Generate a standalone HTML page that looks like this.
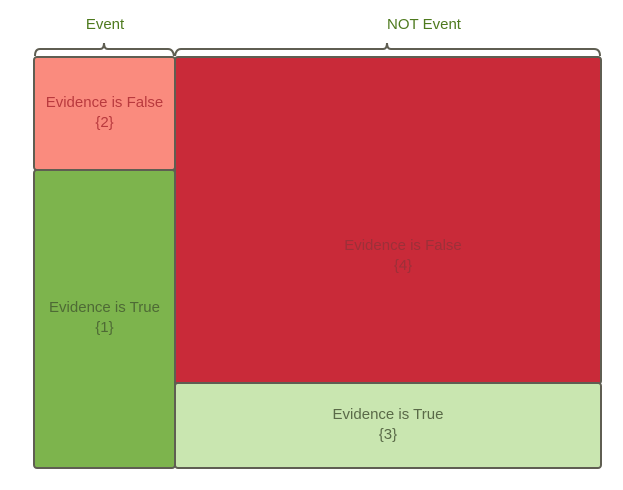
<!DOCTYPE html>
<html><head><meta charset="utf-8"><style>
body{margin:0;width:623px;height:490px;background:#fff;position:relative;font-family:"Liberation Sans",sans-serif;overflow:hidden}
.b{position:absolute;box-sizing:border-box;border:2px solid #5f5e52;border-radius:4px;display:flex;align-items:center;justify-content:center;text-align:center;font-size:15px;line-height:20px;padding-bottom:2px}
.lbl{position:absolute;font-size:15px;color:#4e7a1e;transform:translateX(-50%)}
</style></head><body>
<div class="lbl" style="left:105px;top:16px">Event</div>
<div class="lbl" style="left:424px;top:16px">NOT Event</div>
<svg width="623" height="60" style="position:absolute;left:0;top:0">
<path d="M35 56 Q35 49 40 49 L100 49 Q104 49 104 43 Q104 49 108 49 L168 49 Q173 49 174 56" fill="none" stroke="#5f5e52" stroke-width="2"/>
<path d="M175 56 Q176 49 181 49 L383 49 Q387 49 387 43 Q387 49 391 49 L594 49 Q600 49 600 56" fill="none" stroke="#5f5e52" stroke-width="2"/>
</svg>
<div class="b" style="left:33px;top:56px;width:143px;height:115px;background:#fa8b7e;color:#b93a3e">Evidence is False<br>{2}</div>
<div class="b" style="left:33px;top:169px;width:143px;height:300px;background:#7db44d;color:#4e6a35">Evidence is True<br>{1}</div>
<div class="b" style="left:174px;top:56px;width:428px;height:329px;background:#c92a39;color:#9c3039;padding-left:30px;padding-top:70px;padding-bottom:0">Evidence is False<br>{4}</div>
<div class="b" style="left:174px;top:382px;width:428px;height:87px;background:#c9e6b0;color:#5a6a48">Evidence is True<br>{3}</div>
</body></html>
